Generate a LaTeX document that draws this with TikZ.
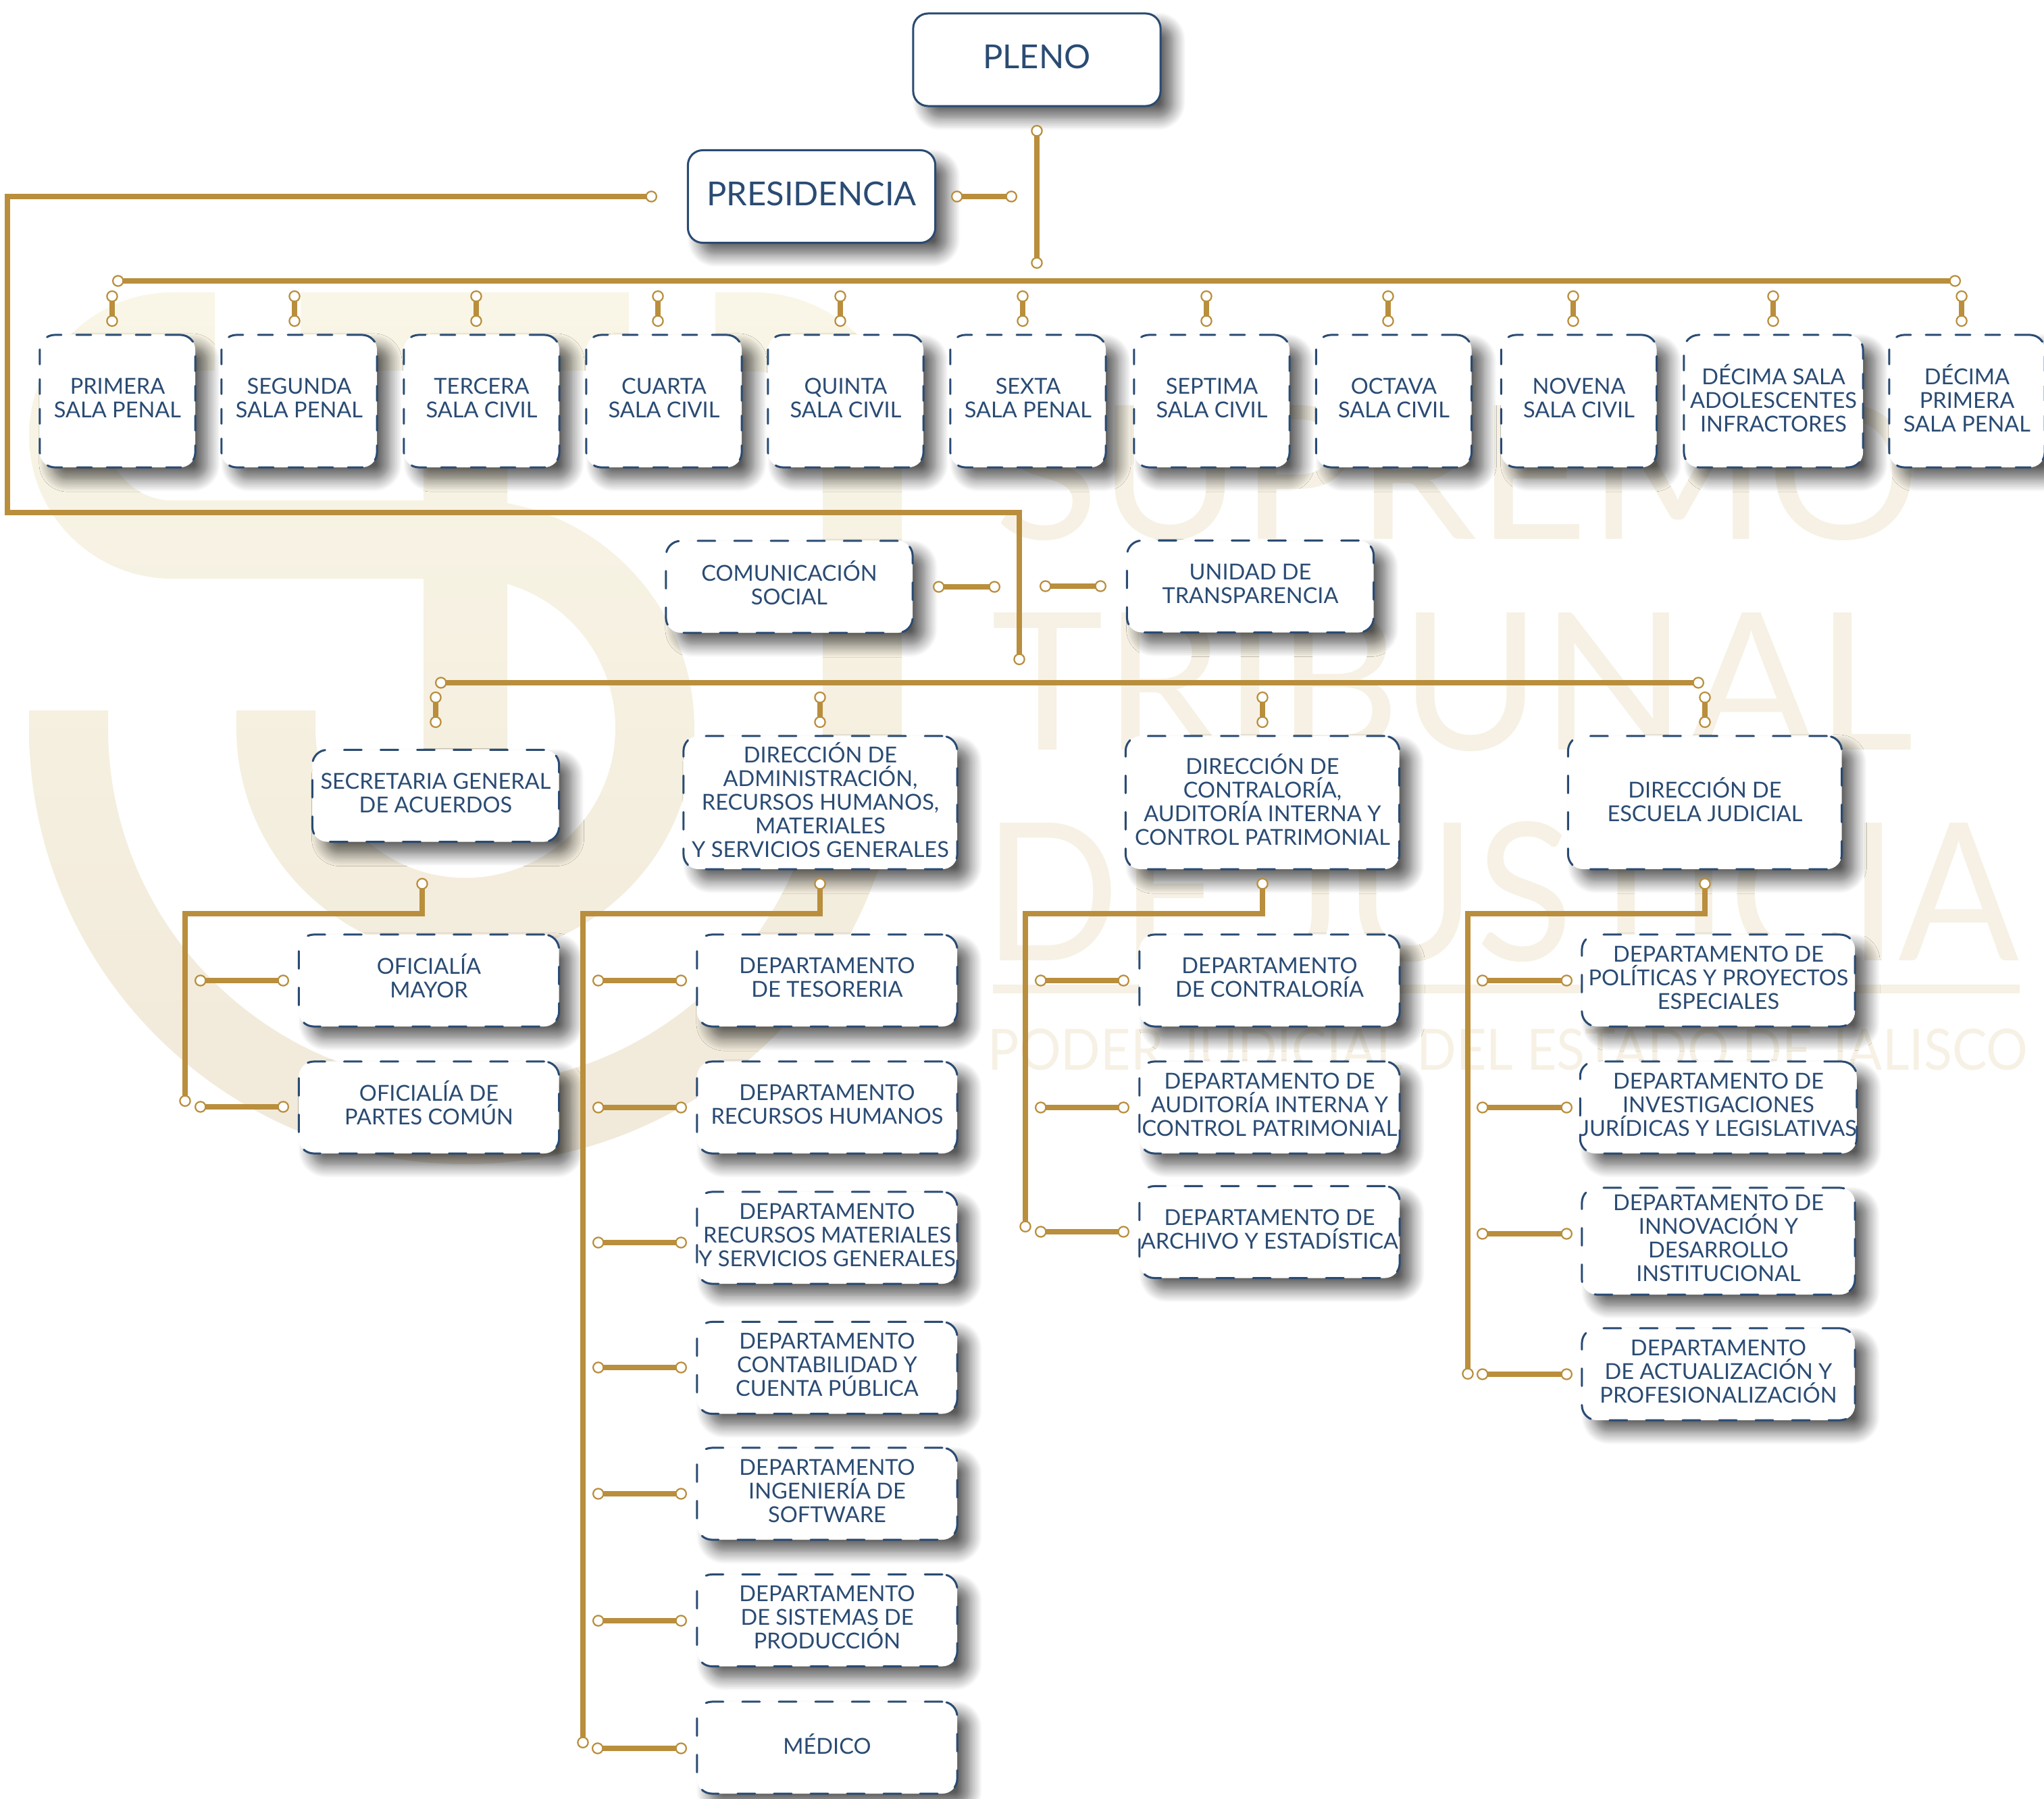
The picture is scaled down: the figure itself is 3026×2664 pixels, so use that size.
\documentclass[tikz,border=0pt]{standalone}
\usepackage{graphicx}
\usepackage{fontspec}
\setmainfont{Lato}
\usetikzlibrary{arrows.meta,shadows.blur}
\definecolor{navyline}{HTML}{2A4B73}
\definecolor{goldline}{HTML}{B98E3C}
\definecolor{wmtop}{HTML}{F9F6E7}
\definecolor{wmlow}{HTML}{F1E9D9}
\definecolor{wmtext}{HTML}{F6F1E4}
\tikzset{
  boxbase/.style={draw=navyline,fill=white,text=navyline,rounded corners=.22cm,inner sep=0pt,align=center,line width=.03cm,line cap=round,
    font=\fontsize{9.25}{9.96}\selectfont,text depth=.09cm,
    blur shadow={shadow xshift=.18cm,shadow yshift=-.17cm,shadow blur radius=.19cm,shadow blur steps=14,shadow opacity=65}},
  topbox/.style={boxbase,minimum width=3.66cm,minimum height=1.37cm,font=\fontsize{13.9}{14}\selectfont},
  salabox/.style={boxbase,dash pattern=on .22cm off .22cm,minimum width=2.3cm,minimum height=1.96cm},
  unitbox/.style={boxbase,dash pattern=on .26cm off .28cm,minimum width=3.65cm,minimum height=1.36cm},
  dirbox/.style={boxbase,dash pattern=on .26cm off .28cm,minimum width=4.05cm,minimum height=1.97cm},
  deptbox/.style={boxbase,dash pattern=on .26cm off .28cm,minimum width=3.85cm,minimum height=1.36cm},
  widebox/.style={deptbox,minimum width=4.04cm},
  link/.style={draw=goldline,line width=.075cm,
    {Circle[open,fill=white,color=goldline,length=.175cm,line width=.022cm]}-{Circle[open,fill=white,color=goldline,length=.175cm,line width=.022cm]}},
  toplink/.style={link,line width=.085cm},
  wmnode/.style={text=wmtext,inner sep=0pt,anchor=base west}
}
\begin{document}
\begin{tikzpicture}[x=.01cm,y=-.01cm]
    \useasboundingbox (0,0) rectangle (3026,2664);
    \shade[top color=wmtop,bottom color=wmlow]
      (318,433) -- (318,549) -- (255,549) arc (-90:-270:96) -- (627,741) -- (627,857) -- (255,857) arc (90:270:212) -- cycle
      (445,433) -- (931,433) -- (931,549) -- (445,549) -- cycle
      (627,549) -- (751,549) -- (751,1180) -- (627,1180) -- cycle
      (751,745) arc (-79.45:180:339) -- (350,1052) -- (467,1052) -- (467,1078) arc (180:-73.8:222) -- cycle
      (1335,652) -- (1335,1078) arc (0:180:646) -- (43,1052) -- (160,1052) -- (160,1078) arc (180:0:529) -- (1218,652) arc (0:-90:102) -- (1059,550) -- (1059,433) -- (1116,433) arc (-90:0:219) -- cycle;
    \node[wmnode] (supremo) at (1472,798) {\resizebox{13.69cm}{2cm}{SUPREMO}};
    \node[wmnode] (tribunal) at (1467,1110) {\resizebox{13.64cm}{2.03cm}{TRIBUNAL}};
    \node[wmnode] (justicia) at (1456,1422) {\resizebox{15.31cm}{2.06cm}{DE JUSTICIA}};
    \fill[wmtext] (1470,1458) rectangle (2990,1471);
    \node[wmnode] (poder) at (1462,1584) {\resizebox{15.38cm}{.61cm}{PODER JUDICIAL DEL ESTADO DE JALISCO}};

    \node[topbox] (pleno) at (1535,88.5) {PLENO};
    \node[topbox] (presidencia) at (1201.5,291) {PRESIDENCIA};

    \node[salabox] (primera) at (174,594) {PRIMERA\\SALA PENAL};
    \node[salabox] (segunda) at (443,594) {SEGUNDA\\SALA PENAL};
    \node[salabox] (tercera) at (713,594) {TERCERA\\SALA CIVIL};
    \node[salabox] (cuarta) at (983,594) {CUARTA\\SALA CIVIL};
    \node[salabox] (quinta) at (1252,594) {QUINTA\\SALA CIVIL};
    \node[salabox] (sexta) at (1522,594) {SEXTA\\SALA PENAL};
    \node[salabox] (septima) at (1794,594) {SEPTIMA\\SALA CIVIL};
    \node[salabox] (octava) at (2063.5,594) {OCTAVA\\SALA CIVIL};
    \node[salabox] (novena) at (2337.5,594) {NOVENA\\SALA CIVIL};
    \node[salabox,minimum width=2.65cm] (decima) at (2625.5,594) {DÉCIMA SALA\\ADOLESCENTES\\INFRACTORES};
    \node[salabox] (undecima) at (2912,594) {DÉCIMA\\PRIMERA\\SALA PENAL};

    \node[unitbox,text depth=.13cm] (comunicacion) at (1168.5,869) {COMUNICACIÓN\\SOCIAL};
    \node[unitbox] (transparencia) at (1851,868.5) {UNIDAD DE\\TRANSPARENCIA};

    \node[unitbox] (secretaria) at (645,1178.5) {SECRETARIA GENERAL\\DE ACUERDOS};
    \node[dirbox] (administracion) at (1214.5,1188.5) {DIRECCIÓN DE\\ADMINISTRACIÓN,\\RECURSOS HUMANOS,\\MATERIALES\\Y SERVICIOS GENERALES};
    \node[dirbox] (contraloria) at (1869,1188.5) {DIRECCIÓN DE\\CONTRALORÍA,\\AUDITORÍA INTERNA Y\\CONTROL PATRIMONIAL};
    \node[dirbox] (escuela) at (2524,1188.5) {DIRECCIÓN DE\\ESCUELA JUDICIAL};

    \node[deptbox,text depth=.15cm] (oficialia) at (635,1452) {OFICIALÍA\\MAYOR};
    \node[deptbox,text depth=.15cm] (partes) at (635,1640) {OFICIALÍA DE\\PARTES COMÚN};

    \node[deptbox] (tesoreria) at (1224.5,1452) {DEPARTAMENTO\\DE TESORERIA};
    \node[deptbox] (humanos) at (1224.5,1640) {DEPARTAMENTO\\RECURSOS HUMANOS};
    \node[deptbox] (materiales) at (1224.5,1833) {DEPARTAMENTO\\RECURSOS MATERIALES\\Y SERVICIOS GENERALES};
    \node[deptbox] (contabilidad) at (1224.5,2025.5) {DEPARTAMENTO\\CONTABILIDAD Y\\CUENTA PÚBLICA};
    \node[deptbox] (software) at (1224.5,2212) {DEPARTAMENTO\\INGENIERÍA DE\\SOFTWARE};
    \node[deptbox] (sistemas) at (1224.5,2399.5) {DEPARTAMENTO\\DE SISTEMAS DE\\PRODUCCIÓN};
    \node[deptbox,text depth=.12cm] (medico) at (1224.5,2588) {MÉDICO};

    \node[deptbox] (depcontra) at (1879.5,1452) {DEPARTAMENTO\\DE CONTRALORÍA};
    \node[deptbox] (auditoria) at (1879.5,1640) {DEPARTAMENTO DE\\AUDITORÍA INTERNA Y\\CONTROL PATRIMONIAL};
    \node[deptbox] (archivo) at (1879.5,1824.5) {DEPARTAMENTO DE\\ARCHIVO Y ESTADÍSTICA};

    \node[widebox] (politicas) at (2544,1452) {DEPARTAMENTO DE\\POLÍTICAS Y PROYECTOS\\ESPECIALES};
    \node[widebox] (juridicas) at (2544,1640) {DEPARTAMENTO DE\\INVESTIGACIONES\\JURÍDICAS Y LEGISLATIVAS};
    \node[widebox,minimum height=1.58cm] (innovacion) at (2544,1838) {DEPARTAMENTO DE\\INNOVACIÓN Y\\DESARROLLO\\INSTITUCIONAL};
    \node[widebox] (actualizacion) at (2544,2035) {DEPARTAMENTO\\DE ACTUALIZACIÓN Y\\PROFESIONALIZACIÓN};

    \coordinate (pleA) at (1535,185); \coordinate (pleB) at (1535,398); \draw[link] (pleA) -- (pleB);
    \coordinate (preA) at (1408,291); \coordinate (preB) at (1506,291); \draw[toplink] (preA) -- (preB);
    \coordinate (topA) at (166,416); \coordinate (topB) at (2903,416); \draw[toplink] (topA) -- (topB);

    \coordinate (s1A) at (166,430); \coordinate (s1B) at (166,484); \draw[toplink] (s1A) -- (s1B);
    \coordinate (s2A) at (436,430); \coordinate (s2B) at (436,484); \draw[toplink] (s2A) -- (s2B);
    \coordinate (s3A) at (705,430); \coordinate (s3B) at (705,484); \draw[toplink] (s3A) -- (s3B);
    \coordinate (s4A) at (974,430); \coordinate (s4B) at (974,484); \draw[toplink] (s4A) -- (s4B);
    \coordinate (s5A) at (1244,430); \coordinate (s5B) at (1244,484); \draw[toplink] (s5A) -- (s5B);
    \coordinate (s6A) at (1514,430); \coordinate (s6B) at (1514,484); \draw[toplink] (s6A) -- (s6B);
    \coordinate (s7A) at (1786,430); \coordinate (s7B) at (1786,484); \draw[toplink] (s7A) -- (s7B);
    \coordinate (s8A) at (2055,430); \coordinate (s8B) at (2055,484); \draw[toplink] (s8A) -- (s8B);
    \coordinate (s9A) at (2329,430); \coordinate (s9B) at (2329,484); \draw[toplink] (s9A) -- (s9B);
    \coordinate (s10A) at (2625,430); \coordinate (s10B) at (2625,484); \draw[toplink] (s10A) -- (s10B);
    \coordinate (s11A) at (2904,430); \coordinate (s11B) at (2904,484); \draw[toplink] (s11A) -- (s11B);

    \coordinate (outA) at (973,291); \coordinate (outB) at (11,291); \coordinate (outC) at (11,759); \coordinate (outD) at (1509,759); \coordinate (outE) at (1509,985);
    \draw[link] (outA) -- (outB) -- (outC) -- (outD) -- (outE);
    \coordinate (comA) at (1381,869); \coordinate (comB) at (1481,869); \draw[link] (comA) -- (comB);
    \coordinate (traA) at (1539,868); \coordinate (traB) at (1638,868); \draw[link] (traA) -- (traB);

    \coordinate (midA) at (644,1011); \coordinate (midB) at (2523,1011); \draw[link] (midA) -- (midB);
    \coordinate (d1A) at (645,1024); \coordinate (d1B) at (645,1078); \draw[link] (d1A) -- (d1B);
    \coordinate (d2A) at (1214,1024); \coordinate (d2B) at (1214,1078); \draw[link] (d2A) -- (d2B);
    \coordinate (d3A) at (1869,1024); \coordinate (d3B) at (1869,1078); \draw[link] (d3A) -- (d3B);
    \coordinate (d4A) at (2524,1024); \coordinate (d4B) at (2524,1078); \draw[link] (d4A) -- (d4B);

    \coordinate (b1A) at (625,1300); \coordinate (b1B) at (625,1353); \coordinate (b1C) at (274,1353); \coordinate (b1D) at (274,1639);
    \draw[link] (b1A) -- (b1B) -- (b1C) -- (b1D);
    \coordinate (o1A) at (288,1452); \coordinate (o1B) at (428,1452); \draw[link] (o1A) -- (o1B);
    \coordinate (o2A) at (288,1639); \coordinate (o2B) at (428,1639); \draw[link] (o2A) -- (o2B);

    \coordinate (b2A) at (1214,1300); \coordinate (b2B) at (1214,1353); \coordinate (b2C) at (863,1353); \coordinate (b2D) at (863,2589);
    \draw[link] (b2A) -- (b2B) -- (b2C) -- (b2D);
    \coordinate (t1A) at (877,1452); \coordinate (t1B) at (1017,1452); \draw[link] (t1A) -- (t1B);
    \coordinate (t2A) at (877,1640); \coordinate (t2B) at (1017,1640); \draw[link] (t2A) -- (t2B);
    \coordinate (t3A) at (877,1840); \coordinate (t3B) at (1017,1840); \draw[link] (t3A) -- (t3B);
    \coordinate (t4A) at (877,2025); \coordinate (t4B) at (1017,2025); \draw[link] (t4A) -- (t4B);
    \coordinate (t5A) at (877,2212); \coordinate (t5B) at (1017,2212); \draw[link] (t5A) -- (t5B);
    \coordinate (t6A) at (877,2400); \coordinate (t6B) at (1017,2400); \draw[link] (t6A) -- (t6B);
    \coordinate (t7A) at (876,2589); \coordinate (t7B) at (1017,2589); \draw[link] (t7A) -- (t7B);

    \coordinate (b3A) at (1869,1300); \coordinate (b3B) at (1869,1353); \coordinate (b3C) at (1518,1353); \coordinate (b3D) at (1518,1825);
    \draw[link] (b3A) -- (b3B) -- (b3C) -- (b3D);
    \coordinate (c1A) at (1532,1452); \coordinate (c1B) at (1672,1452); \draw[link] (c1A) -- (c1B);
    \coordinate (c2A) at (1532,1640); \coordinate (c2B) at (1672,1640); \draw[link] (c2A) -- (c2B);
    \coordinate (c3A) at (1532,1824); \coordinate (c3B) at (1672,1824); \draw[link] (c3A) -- (c3B);

    \coordinate (b4A) at (2524,1300); \coordinate (b4B) at (2524,1353); \coordinate (b4C) at (2173,1353); \coordinate (b4D) at (2173,2043);
    \draw[link] (b4A) -- (b4B) -- (b4C) -- (b4D);
    \coordinate (e1A) at (2186,1452); \coordinate (e1B) at (2328,1452); \draw[link] (e1A) -- (e1B);
    \coordinate (e2A) at (2186,1640); \coordinate (e2B) at (2328,1640); \draw[link] (e2A) -- (e2B);
    \coordinate (e3A) at (2186,1827); \coordinate (e3B) at (2328,1827); \draw[link] (e3A) -- (e3B);
    \coordinate (e4A) at (2186,2035); \coordinate (e4B) at (2328,2035); \draw[link] (e4A) -- (e4B);
\end{tikzpicture}
\end{document}
